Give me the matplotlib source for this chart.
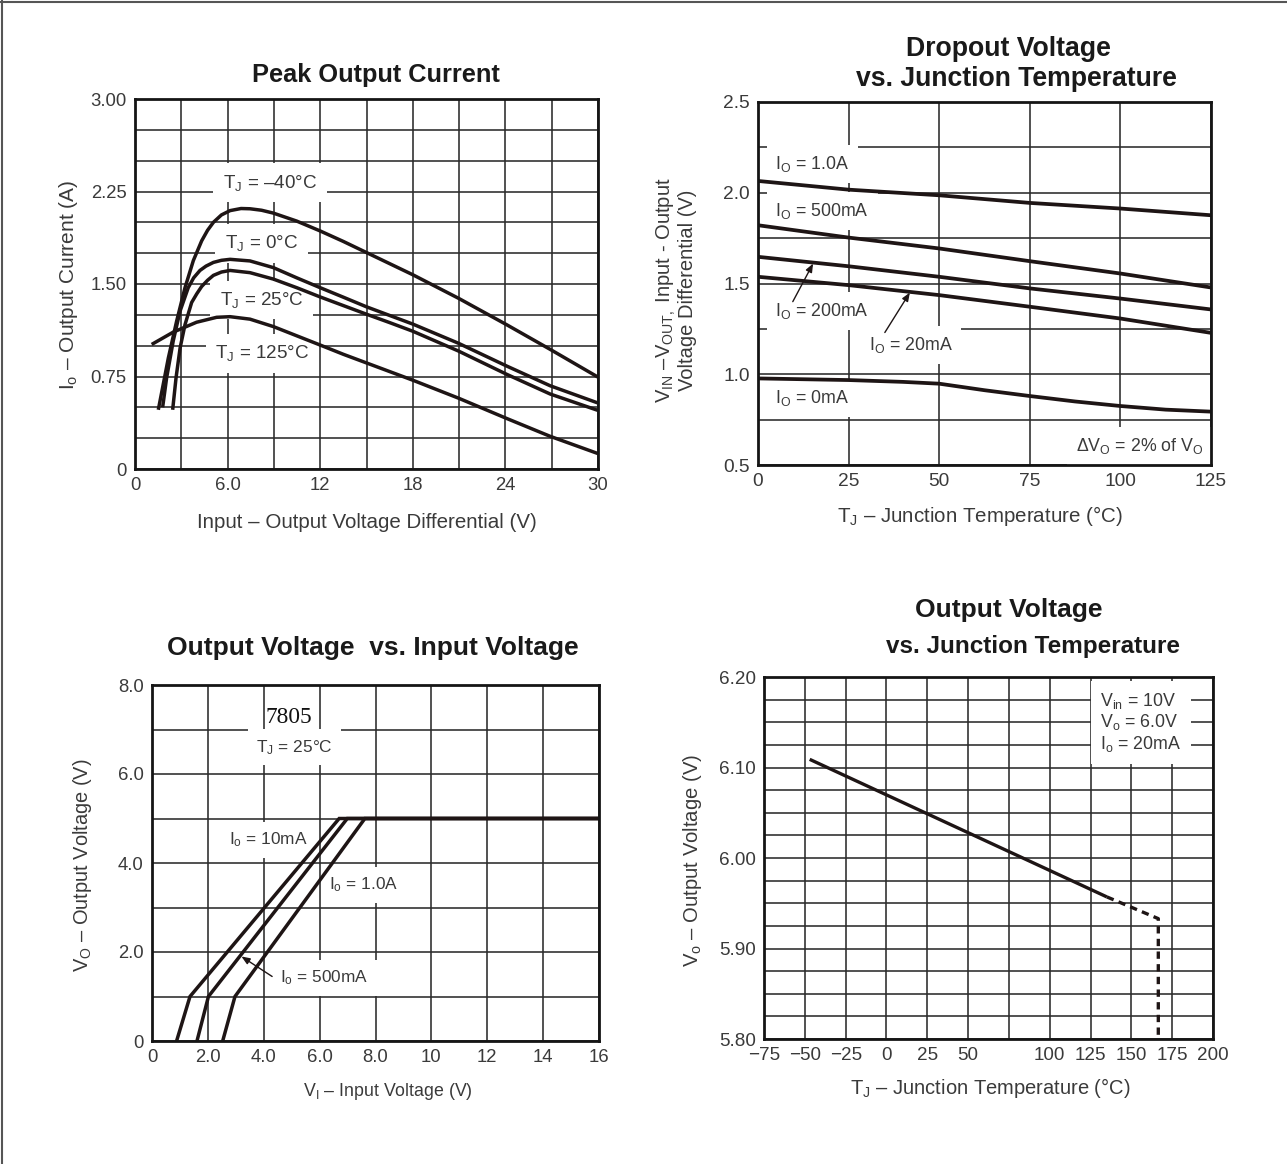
import matplotlib
matplotlib.use('Agg')
import matplotlib.pyplot as plt
from matplotlib.lines import Line2D
import numpy as np

plt.rcParams['font.family'] = ['Liberation Sans', 'DejaVu Sans']
plt.rcParams['mathtext.fontset'] = 'custom'
plt.rcParams['mathtext.rm'] = 'Liberation Sans'
plt.rcParams['mathtext.it'] = 'Liberation Sans:italic'
plt.rcParams['mathtext.bf'] = 'Liberation Sans:bold'

# ---------------- data ----------------
# Panel 1: Peak output current vs input-output differential
p1_vdiff_m40 = [1.51, 2.16, 2.70, 3.24, 3.78, 4.32, 4.70, 5.08, 5.60, 6.16, 6.87, 7.45, 8.20,
                8.96, 10.48, 12.0, 13.5, 15.0, 16.5, 18.0, 20.95, 24.08, 26.9, 30.0]
p1_io_m40 = [0.48, 0.90, 1.20, 1.47, 1.69, 1.85, 1.935, 2.00, 2.06, 2.095, 2.112, 2.11, 2.098,
             2.075, 2.01, 1.93, 1.845, 1.755, 1.665, 1.575, 1.385, 1.17, 0.97, 0.745]
p1_vdiff_0 = [1.79, 2.05, 2.48, 2.92, 3.45, 3.80, 4.21, 4.60, 5.08, 5.60, 6.16, 7.45, 8.96,
              10.48, 12.0, 13.5, 15.0, 16.5, 18.0, 20.95, 24.08, 26.9, 30.0]
p1_io_0 = [0.50, 0.74, 1.04, 1.28, 1.47, 1.55, 1.61, 1.645, 1.675, 1.692, 1.70, 1.687, 1.633,
           1.55, 1.47, 1.393, 1.315, 1.245, 1.175, 1.02, 0.835, 0.675, 0.535]
p1_vdiff_25 = [2.44, 2.66, 2.92, 3.24, 3.67, 4.00, 4.32, 4.70, 5.08, 5.60, 6.16, 7.45, 8.96,
               10.48, 12.0, 13.5, 15.0, 16.5, 18.0, 20.95, 24.08, 26.9, 30.0]
p1_io_25 = [0.48, 0.74, 0.98, 1.17, 1.35, 1.42, 1.48, 1.53, 1.57, 1.597, 1.61, 1.592, 1.54,
            1.47, 1.395, 1.325, 1.255, 1.187, 1.117, 0.957, 0.768, 0.608, 0.475]
p1_vdiff_125 = [1.08, 2.48, 3.99, 5.29, 6.16, 7.45, 8.96, 10.48, 12.0, 13.5, 15.0, 16.5,
                18.0, 20.95, 24.08, 26.9, 30.0]
p1_io_125 = [1.01, 1.11, 1.19, 1.23, 1.235, 1.215, 1.155, 1.08, 1.005, 0.93, 0.86, 0.79,
             0.72, 0.575, 0.41, 0.265, 0.125]
p1_xtick_vals = [0, 6, 12, 18, 24, 30]
p1_xtick_labels = ['0', '6.0', '12', '18', '24', '30']
p1_ytick_vals = [0, 0.75, 1.5, 2.25, 3.0]
p1_ytick_labels = ['0', '0.75', '1.50', '2.25', '3.00']

# Panel 2: Dropout voltage vs junction temperature
p2_tj = [0, 25, 50, 75, 100, 125]
p2_1A = [2.065, 2.017, 1.986, 1.944, 1.913, 1.876]
p2_500mA = [1.821, 1.753, 1.693, 1.623, 1.555, 1.478]
p2_200mA = [1.647, 1.595, 1.537, 1.473, 1.417, 1.357]
p2_20mA = [1.537, 1.491, 1.436, 1.372, 1.307, 1.228]
p2_tj_0mA = [0, 25, 40, 50, 62.5, 75, 87.5, 100, 112.5, 125]
p2_0mA = [0.977, 0.968, 0.958, 0.948, 0.912, 0.880, 0.850, 0.825, 0.805, 0.794]
p2_xtick_vals = [0, 25, 50, 75, 100, 125]
p2_xtick_labels = ['0', '25', '50', '75', '100', '125']
p2_ytick_vals = [0.5, 1.0, 1.5, 2.0, 2.5]
p2_ytick_labels = ['0.5', '1.0', '1.5', '2.0', '2.5']

# Panel 3: Output voltage vs input voltage (7805)
p3_vo = [0, 1.0, 5.0, 5.0]
p3_vi_10mA = [0.88, 1.36, 6.70, 16.0]
p3_vi_500mA = [1.61, 2.02, 6.99, 16.0]
p3_vi_1A = [2.53, 2.97, 7.62, 16.0]
p3_xtick_vals = [0, 2, 4, 6, 8, 10, 12, 14, 16]
p3_xtick_labels = ['0', '2.0', '4.0', '6.0', '8.0', '10', '12', '14', '16']
p3_ytick_vals = [0, 2, 4, 6, 8]
p3_ytick_labels = ['0', '2.0', '4.0', '6.0', '8.0']

# Panel 4: Output voltage vs junction temperature
p4_tj_solid = [-47, 135]
p4_vo_solid = [6.109, 5.957]
p4_tj_dash = [135, 166.5, 166.5]
p4_vo_dash = [5.957, 5.933, 5.80]
p4_xtick_vals = [-75, -50, -25, 0, 25, 50, 100, 125, 150, 175, 200]
p4_xtick_labels = ['\u221275', '\u221250', '\u221225', '0', '25', '50', '100', '125', '150', '175', '200']
p4_ytick_vals = [5.80, 5.90, 6.00, 6.10, 6.20]
p4_ytick_labels = ['5.80', '5.90', '6.00', '6.10', '6.20']

# ---------------- style ----------------
W, H = 1287, 1164
fig = plt.figure(figsize=(W / 100, H / 100), dpi=100)
LINE = '#1e1515'
GRID = '#2b2b2b'
TXT = '#3a3a3a'
TITLE = '#1a1a1a'
BOX = dict(boxstyle='square,pad=0.5', fc='white', ec='none')


def axes_px(l, t, r, b):
    return fig.add_axes([l / W, 1 - b / H, (r - l) / W, (b - t) / H])


def ftext(px, py, s, **kw):
    fig.text(px / W, 1 - py / H, s, **kw)


def style(ax, xlim, ylim, xgrid, ygrid, xt, xl, yt, yl, tsize=13.2):
    ax.set_xlim(*xlim)
    ax.set_ylim(*ylim)
    ax.set_xticks(xgrid, minor=True)
    ax.set_yticks(ygrid, minor=True)
    ax.set_xticks(xt)
    ax.set_xticklabels(xl)
    ax.set_yticks(yt)
    ax.set_yticklabels(yl)
    ax.grid(True, which='both', color=GRID, lw=1.15)
    ax.tick_params(which='both', length=0, pad=6, labelsize=tsize, labelcolor=TXT)
    for s in ax.spines.values():
        s.set_linewidth(2.0)
        s.set_color('#151515')
        s.set_zorder(4)


# figure frame (left and top)
fig.add_artist(Line2D([1.5 / W, 1.5 / W], [0, 1], color='#555555', lw=1.5))
fig.add_artist(Line2D([0, 1], [1 - 1.5 / H, 1 - 1.5 / H], color='#555555', lw=1.5))

# ---------- Panel 1 ----------
ax1 = axes_px(135, 99, 598, 469)
style(ax1, (0, 30), (0, 3.0), np.arange(0, 30.1, 3), np.arange(0, 3.01, 0.25),
      p1_xtick_vals, p1_xtick_labels, p1_ytick_vals, p1_ytick_labels, 13.3)
for xs, ys in [(p1_vdiff_m40, p1_io_m40), (p1_vdiff_0, p1_io_0),
               (p1_vdiff_25, p1_io_25), (p1_vdiff_125, p1_io_125)]:
    ax1.plot(xs, ys, color=LINE, lw=2.5, solid_capstyle='butt', solid_joinstyle='round', zorder=2)
for (x, y, s) in [(8.75, 2.32, 'T$_\\mathrm{J}$ = \u201340\u00b0C'),
                  (8.2, 1.83, 'T$_\\mathrm{J}$ = 0\u00b0C'),
                  (8.2, 1.37, 'T$_\\mathrm{J}$ = 25\u00b0C'),
                  (8.27, 0.94, 'T$_\\mathrm{J}$ = 125\u00b0C')]:
    ax1.text(x, y, s, ha='center', va='center', fontsize=13.6, color=TXT,
             bbox=BOX, zorder=1.8)
ftext(376, 75, 'Peak Output Current', ha='center', va='center', fontsize=18.3,
      fontweight='bold', color=TITLE)
ftext(367, 522, 'Input \u2013 Output Voltage Differential (V)', ha='center', va='center',
      fontsize=14.8, color=TXT)
ftext(68, 285, 'I$_\\mathrm{o}$ \u2013 Output Current (A)', ha='center', va='center',
      fontsize=15, color=TXT, rotation=90)

# ---------- Panel 2 ----------
ax2 = axes_px(758, 102, 1211, 465)
style(ax2, (0, 125), (0.5, 2.5), np.arange(0, 126, 25), np.arange(0.5, 2.51, 0.25),
      p2_xtick_vals, p2_xtick_labels, p2_ytick_vals, p2_ytick_labels, 13.8)
for ys in [p2_1A, p2_500mA, p2_200mA, p2_20mA]:
    ax2.plot(p2_tj, ys, color=LINE, lw=2.7, zorder=2)
ax2.plot(p2_tj_0mA, p2_0mA, color=LINE, lw=2.7, zorder=2)
for (x, y, s, ha) in [(4.8, 2.16, 'I$_\\mathrm{O}$ = 1.0A', 'left'),
                      (4.8, 1.90, 'I$_\\mathrm{O}$ = 500mA', 'left'),
                      (4.8, 1.35, 'I$_\\mathrm{O}$ = 200mA', 'left'),
                      (30.5, 1.16, 'I$_\\mathrm{O}$ = 20mA', 'left'),
                      (4.8, 0.868, 'I$_\\mathrm{O}$ = 0mA', 'left'),
                      (123, 0.605, '\u0394V$_\\mathrm{O}$ = 2% of V$_\\mathrm{O}$', 'right')]:
    ax2.text(x, y, s, ha=ha, va='center', fontsize=12.8, color=TXT, bbox=BOX, zorder=1.8)
ax2.annotate('', xy=(15.2, 1.61), xytext=(9.6, 1.40),
             arrowprops=dict(arrowstyle='-|>,head_length=0.5,head_width=0.2', lw=1.0,
                             color=LINE, shrinkA=0, shrinkB=0), zorder=2.5)
ax2.annotate('', xy=(41.9, 1.45), xytext=(35.0, 1.23),
             arrowprops=dict(arrowstyle='-|>,head_length=0.5,head_width=0.2', lw=1.0,
                             color=LINE, shrinkA=0, shrinkB=0), zorder=2.5)
ftext(1008, 49, 'Dropout Voltage', ha='center', va='center', fontsize=19.2,
      fontweight='bold', color=TITLE)
ftext(1016, 79, 'vs. Junction Temperature', ha='center', va='center', fontsize=19.2,
      fontweight='bold', color=TITLE)
ftext(980, 516, 'T$_\\mathrm{J}$ \u2013 Junction Temperature (\u00b0C)', ha='center',
      va='center', fontsize=14.8, color=TXT)
ftext(676, 290, 'V$_\\mathrm{IN}$ \u2013V$_\\mathrm{OUT,}$ Input - Output\nVoltage Differential (V)',
      ha='center', va='center', fontsize=14.5, color=TXT, rotation=90, linespacing=0.95)

# ---------- Panel 3 ----------
ax3 = axes_px(152, 685, 599, 1041)
style(ax3, (0, 16), (0, 8), np.arange(0, 16.1, 2), np.arange(0, 8.1, 1),
      p3_xtick_vals, p3_xtick_labels, p3_ytick_vals, p3_ytick_labels, 13.3)
for xs in [p3_vi_10mA, p3_vi_500mA, p3_vi_1A]:
    ax3.plot(xs, p3_vo, color=LINE, lw=2.5, zorder=2, solid_joinstyle='miter')
ax3.text(4.9, 7.28, '7805', ha='center', va='center', fontsize=16.8,
         family=['Liberation Serif', 'DejaVu Serif'], color='#111111', zorder=1.8)
for (x, y, s) in [(5.1, 6.6, 'T$_\\mathrm{J}$ = 25\u00b0C'),
                  (4.15, 4.52, 'I$_\\mathrm{o}$ = 10mA'),
                  (7.59, 3.51, 'I$_\\mathrm{o}$ = 1.0A'),
                  (6.15, 1.42, 'I$_\\mathrm{o}$ = 500mA')]:
    ax3.text(x, y, s, ha='center', va='center', fontsize=12.4, color=TXT, bbox=BOX, zorder=1.8)
ax3.annotate('', xy=(3.2, 1.9), xytext=(4.3, 1.45),
             arrowprops=dict(arrowstyle='-|>,head_length=0.5,head_width=0.2', lw=1.0,
                             color=LINE, shrinkA=0, shrinkB=0), zorder=2.5)
ftext(373, 648, 'Output Voltage  vs. Input Voltage', ha='center', va='center',
      fontsize=19, fontweight='bold', color=TITLE)
ftext(388, 1091, 'V$_\\mathrm{I}$ \u2013 Input Voltage (V)', ha='center', va='center',
      fontsize=12.8, color=TXT)
ftext(83, 865, 'V$_\\mathrm{O}$ \u2013 Output Voltage (V)', ha='center', va='center',
      fontsize=14.4, color=TXT, rotation=90)

# ---------- Panel 4 ----------
ax4 = axes_px(764, 677, 1213, 1039)
style(ax4, (-75, 200), (5.80, 6.20), np.arange(-75, 201, 25), np.arange(5.80, 6.201, 0.025),
      p4_xtick_vals, p4_xtick_labels, p4_ytick_vals, p4_ytick_labels, 13.6)
ax4.plot(p4_tj_solid, p4_vo_solid, color=LINE, lw=2.4, zorder=2, solid_capstyle='butt')
ax4.plot(p4_tj_dash, p4_vo_dash, color=LINE, lw=2.4, zorder=2, ls=(0, (2.2, 1.6)))
ax4.text(131, 6.150, 'V$_\\mathrm{in}$ = 10V\nV$_\\mathrm{o}$ = 6.0V\nI$_\\mathrm{o}$ = 20mA',
         ha='left', va='center', fontsize=12.8, color=TXT, linespacing=1.1,
         bbox=dict(boxstyle='square,pad=0.55', fc='white', ec='none'), zorder=1.8)
ftext(1009, 610, 'Output Voltage', ha='center', va='center', fontsize=19,
      fontweight='bold', color=TITLE)
ftext(1033, 646, 'vs. Junction Temperature', ha='center', va='center', fontsize=17.5,
      fontweight='bold', color=TITLE)
ftext(990, 1088, 'T$_\\mathrm{J}$ \u2013 Junction Temperature (\u00b0C)', ha='center',
      va='center', fontsize=14.5, color=TXT)
ftext(692, 860, 'V$_\\mathrm{o}$ \u2013 Output Voltage (V)', ha='center', va='center',
      fontsize=14.6, color=TXT, rotation=90)

fig.savefig('out.png', dpi=100, facecolor='white')
